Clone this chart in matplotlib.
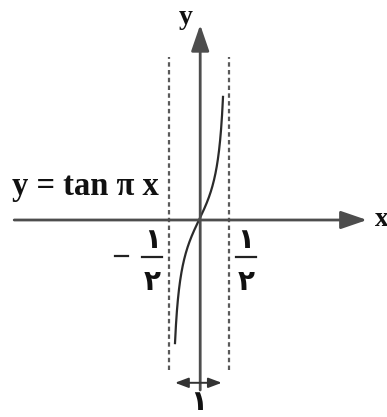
import numpy as np
import matplotlib
matplotlib.use("Agg")
from matplotlib import pyplot as plt

# chart content
label_func = "y = tan π x"
asymptotes = [-0.5, 0.5]
curve_range = [-0.4, 0.4]
frac_num = "۱"
frac_den = "۲"
period_label = "۱"
period_span = [-0.4, 0.38]

# pixel geometry of the drawing (origin at px 199, 220; 60 px per x unit, 40 px per y unit)
W, H = 387, 417
ox, oy = 199, 220
sx, sy = 60.0, 40.0

fig = plt.figure(figsize=(W / 100, H / 100), dpi=100)
ax = fig.add_axes([0, 0, 1, 1])
ax.set_xlim(-ox / sx, (W - ox) / sx)
ax.set_ylim(-(H - oy) / sy, oy / sy)
ax.axis("off")

axcol = "#4d4d4d"
head = "-|>,head_length=1.6,head_width=0.55"

# x axis
ax.annotate("", xy=(2.8, 0), xytext=(-3.08, 0),
            arrowprops=dict(arrowstyle=head, color=axcol, lw=2.0,
                            shrinkA=0, shrinkB=0))
# y axis
ax.annotate("", xy=(0.02, 4.88), xytext=(0.02, -4.25),
            arrowprops=dict(arrowstyle=head, color=axcol, lw=2.0,
                            shrinkA=0, shrinkB=0))

serif = ["Liberation Serif", "DejaVu Serif"]
ax.text(3.04, 0.02, "x", fontsize=20, fontweight="bold", family=serif,
        ha="center", va="center", color="#111")
ax.text(-0.22, 5.05, "y", fontsize=20, fontweight="bold", family=serif,
        ha="center", va="center", color="#111")

# asymptotes
for a in asymptotes:
    ax.plot([a, a], [-3.75, 4.08], color="#5a5a5a", lw=1.6,
            linestyle=(0, (2, 1.5)))

# the curve
x = np.linspace(curve_range[0], curve_range[1], 300)
ax.plot(x, np.tan(np.pi * x), color="#2b2b2b", lw=1.6)

# function label
ax.text(-3.12, 0.85, label_func, fontsize=23.5, fontweight="bold", family=serif,
        ha="left", va="center", color="#111")

# fractions -1/2 and 1/2
digits = ["DejaVu Sans"]
for xc, neg in [(-0.78, True), (0.78, False)]:
    ax.plot([xc - 0.17, xc + 0.17], [-0.93, -0.93], color="#222", lw=1.6)
    ax.text(xc, -0.5, frac_num, fontsize=20, fontweight="bold", family=digits,
            ha="center", va="center", color="#111")
    ax.text(xc, -1.55, frac_den, fontsize=20, fontweight="bold", family=digits,
            ha="center", va="center", color="#111")
    if neg:
        ax.plot([-1.4, -1.18], [-0.9, -0.9], color="#222", lw=1.6)

# period arrow
ax.annotate("", xy=(period_span[1], -4.07), xytext=(period_span[0], -4.07),
            arrowprops=dict(arrowstyle="<|-|>,head_length=0.8,head_width=0.3",
                            color="#333", lw=1.4, shrinkA=0, shrinkB=0))
ax.text(0.0, -4.9, period_label, fontsize=20, fontweight="bold", family=digits,
        ha="center", va="bottom", color="#111")

plt.savefig("out.png", dpi=100)
